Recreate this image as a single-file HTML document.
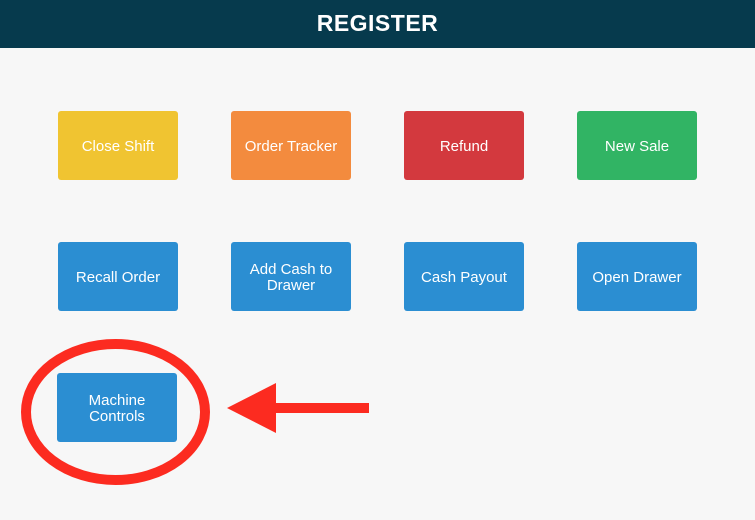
<!DOCTYPE html>
<html><head><meta charset="utf-8"><style>
body{margin:0;width:755px;height:520px;background:#f7f7f7;position:relative;overflow:hidden;font-family:"Liberation Sans",sans-serif}
.hd{position:absolute;left:0;top:0;width:755px;height:48px;background:#063a4d;color:#fff;font-weight:bold;font-size:23px;text-align:center;line-height:46px;letter-spacing:0.5px}
.b{position:absolute;width:120px;height:69px;border-radius:3px;color:#fff;font-size:15px;display:flex;align-items:center;justify-content:center;text-align:center;line-height:16px;box-sizing:border-box;padding-top:3px}
.y{background:#f0c431}.o{background:#f38b3e}.r{background:#d3393e}.g{background:#31b464}.u{background:#2b8ed2}
</style></head><body>
<div class="hd">REGISTER</div>
<div class="b y" style="left:58px;top:111px">Close Shift</div>
<div class="b o" style="left:231px;top:111px">Order Tracker</div>
<div class="b r" style="left:404px;top:111px">Refund</div>
<div class="b g" style="left:577px;top:111px">New Sale</div>
<div class="b u" style="left:58px;top:242px">Recall Order</div>
<div class="b u" style="left:231px;top:242px">Add Cash to<br>Drawer</div>
<div class="b u" style="left:404px;top:242px">Cash Payout</div>
<div class="b u" style="left:577px;top:242px">Open Drawer</div>
<div class="b u" style="left:57px;top:373px">Machine<br>Controls</div>
<svg style="position:absolute;left:0;top:0" width="755" height="520">
<ellipse cx="115.5" cy="412" rx="89.5" ry="68" fill="none" stroke="#fc2b20" stroke-width="10"/>
<rect x="270" y="403" width="99" height="10" fill="#fc2b20"/>
<polygon points="227,408 276,383 276,433" fill="#fc2b20"/>
</svg>
</body></html>
